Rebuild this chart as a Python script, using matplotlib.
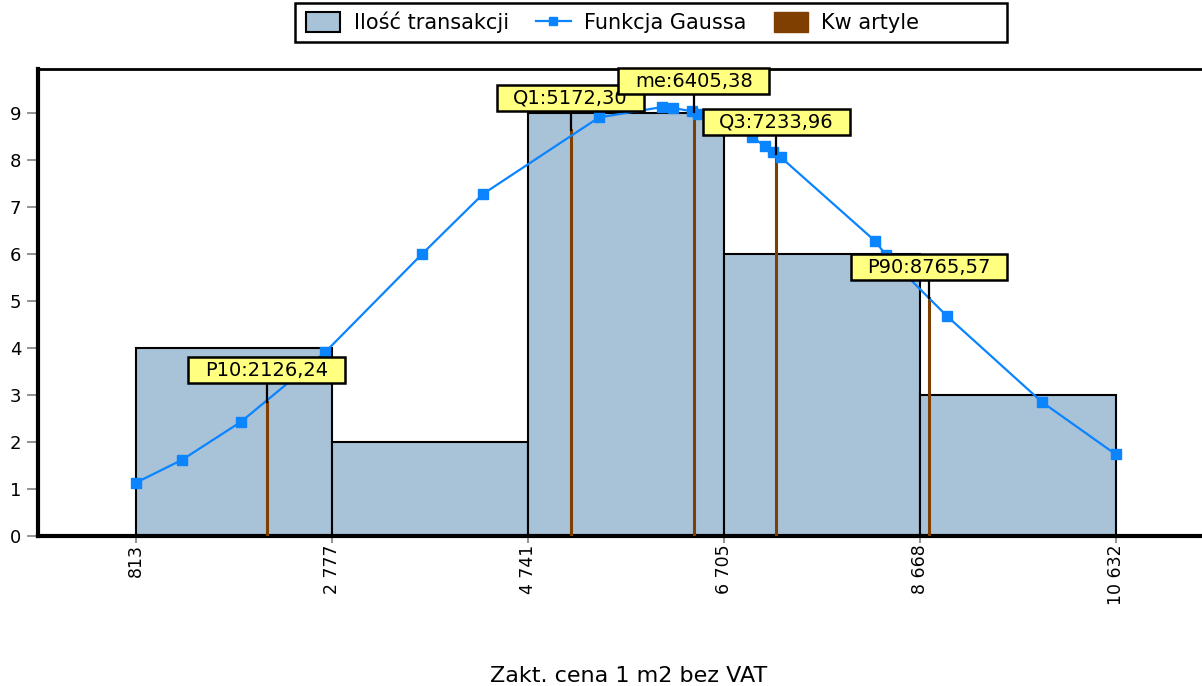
import matplotlib

matplotlib.use("Agg")
import matplotlib.pyplot as plt
from matplotlib.patches import Patch, Rectangle
from matplotlib.lines import Line2D
from matplotlib.path import Path
from matplotlib.ticker import FuncFormatter

plt.rcParams["font.family"] = ["DejaVu Sans"]

# histogram: bin edges and counts
bin_edges = [813, 2777, 4741, 6705, 8668, 10632]
counts = [4, 2, 9, 6, 3]

# Gauss function points
gauss_x = [813, 1279, 1870, 2712, 3683, 4295, 5457, 6088, 6198, 6388, 6448,
           6989, 7119, 7199, 7279, 8222, 8332, 8943, 9895, 10632]
gauss_y = [1.13, 1.62, 2.43, 3.91, 6.00, 7.28, 8.91, 9.13, 9.11, 9.04, 8.98,
           8.49, 8.30, 8.17, 8.06, 6.28, 5.98, 4.68, 2.85, 1.74]

# quartiles / percentiles
q_names = ["P10", "Q1", "me", "Q3", "P90"]
q_values = [2126.24, 5172.30, 6405.38, 7233.96, 8765.57]
q_heights = [2.85, 8.64, 9.02, 8.13, 5.06]
q_label_y = [3.53, 9.32, 9.68, 8.81, 5.72]

bar_color = "#A8C2D8"
gauss_color = "#0A84FF"
q_color = "#7F3F00"


def wide_box(x0, y0, width, height, mutation_size):
    # rectangle with more padding left/right than top/bottom
    px = 0.85 * mutation_size
    py = 0.17 * mutation_size
    x0, y0 = x0 - px, y0 - py
    x1, y1 = x0 + width + 2 * px, y0 + height + 2 * py
    return Path([(x0, y0), (x1, y0), (x1, y1), (x0, y1), (x0, y0)], closed=True)


fig = plt.figure(figsize=(12.02, 6.86), dpi=100)
ax = fig.add_axes([0.0316, 0.2187, 0.9684, 0.6807])

widths = [bin_edges[i + 1] - bin_edges[i] for i in range(len(counts))]
ax.bar(bin_edges[:-1], counts, width=widths, align="edge", color=bar_color,
       edgecolor="black", linewidth=1.5, zorder=2)

for qx, qh in zip(q_values, q_heights):
    ax.plot([qx, qx], [0, qh], color=q_color, linewidth=2.2, zorder=3)

ax.plot(gauss_x, gauss_y, color=gauss_color, linewidth=1.6, marker="s",
        markersize=7, zorder=4)

for name, qx, qh, ly in zip(q_names, q_values, q_heights, q_label_y):
    ax.plot([qx, qx], [qh, ly], color="black", linewidth=1.6, zorder=5)
    ax.text(qx, ly, f"{name}:{qx:.2f}".replace(".", ","), ha="center",
            va="center", fontsize=14, zorder=6,
            bbox=dict(boxstyle=wide_box, facecolor="#FFFF80",
                      edgecolor="black", linewidth=1.8))

ax.set_xlim(-164, 11498)
ax.set_ylim(0, 9.94)
ax.set_xticks(bin_edges)
ax.xaxis.set_major_formatter(FuncFormatter(lambda v, p: f"{int(round(v)):,}".replace(",", " ")))
ax.set_yticks(range(10))
ax.tick_params(axis="x", rotation=90, labelsize=12.5, length=5, width=1.2,
               color="#808080", pad=1)
ax.tick_params(axis="y", labelsize=13, length=8, width=1.2, color="#808080",
               pad=4)

for side in ["left", "bottom"]:
    ax.spines[side].set_linewidth(3)
ax.spines["top"].set_linewidth(2)
ax.spines["right"].set_visible(False)

fig.text(0.523, 0.0, "Zakt. cena 1 m2 bez VAT", ha="center", va="bottom",
         fontsize=16)

# legend: frame drawn separately (it is wider than its entries)
fig.patches.append(Rectangle((295 / 1202, 1 - 42 / 686), 712 / 1202, 39 / 686,
                             transform=fig.transFigure, facecolor="white",
                             edgecolor="black", linewidth=1.8, zorder=1))
handles = [
    Patch(facecolor=bar_color, edgecolor="black", linewidth=1.5),
    Line2D([0], [0], color=gauss_color, marker="s", markersize=6, linewidth=1.6),
    Patch(facecolor=q_color, edgecolor=q_color),
]
leg = fig.legend(handles, ["Ilość transakcji", "Funkcja Gaussa", "Kw artyle"],
                 loc="center left", bbox_to_anchor=(306 / 1202, 1 - 22.5 / 686),
                 ncol=3, fontsize=15, frameon=False, borderpad=0,
                 handlelength=1.65, handleheight=1.1, handletextpad=0.65,
                 columnspacing=1.3, borderaxespad=0)
leg.set_zorder(2)

fig.savefig("out.png", dpi=100)
plt.close(fig)
